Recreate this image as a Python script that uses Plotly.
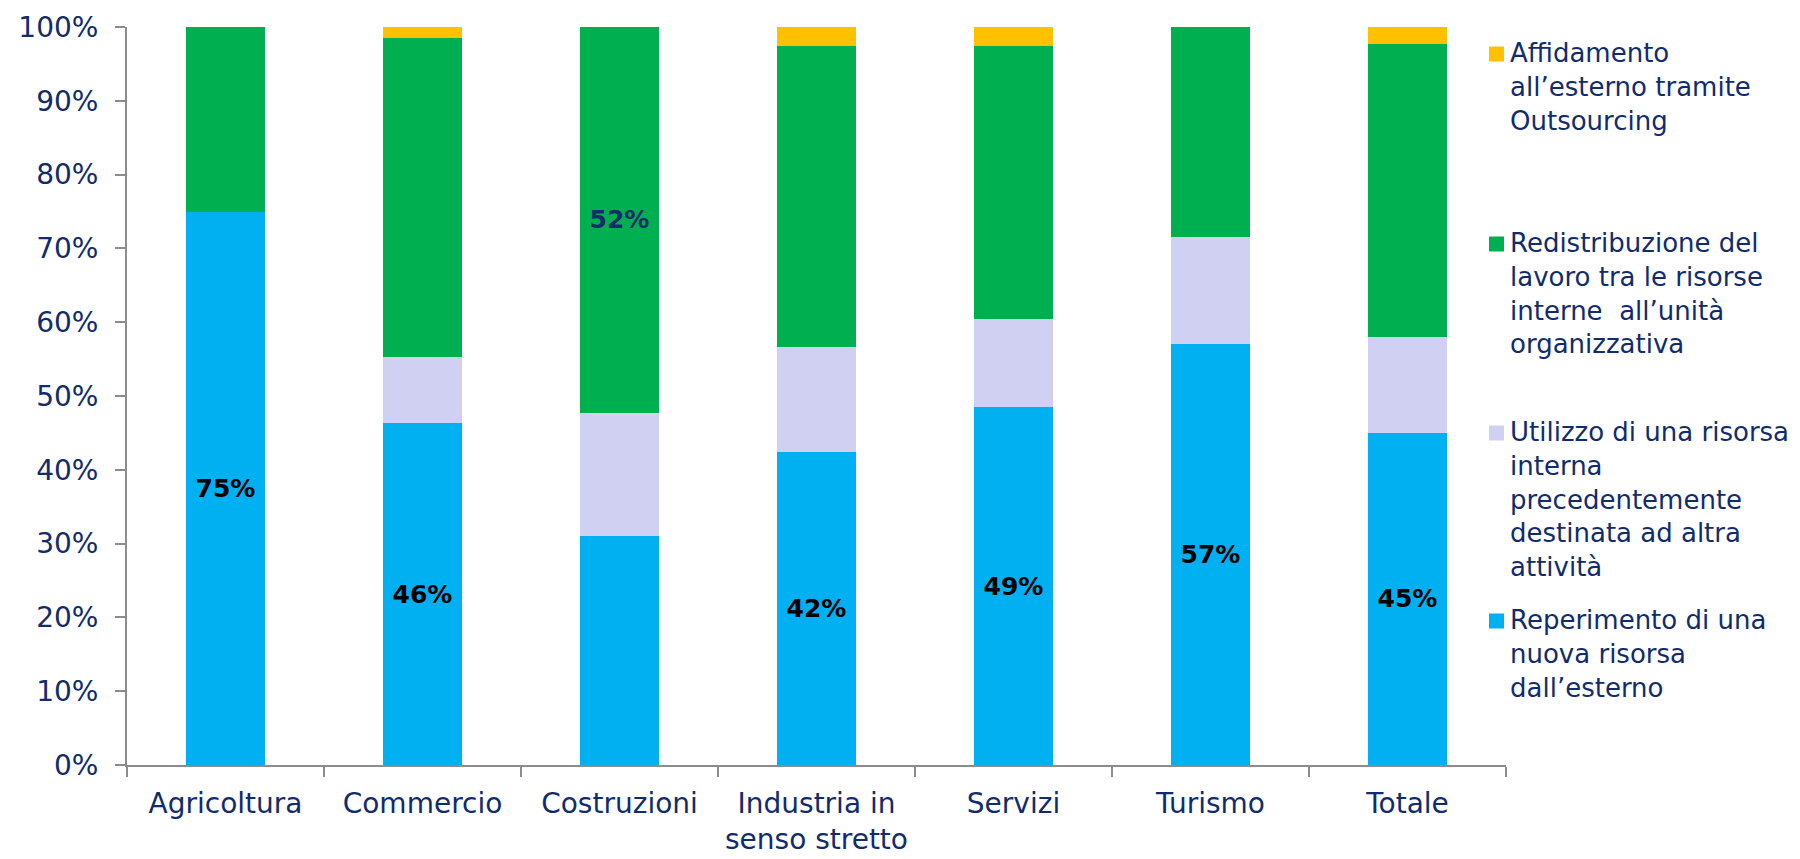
import plotly.graph_objects as go

# categories and series (percent of firms)
settori = ["Agricoltura", "Commercio", "Costruzioni", "Industria in<br>senso stretto",
           "Servizi", "Turismo", "Totale"]

reperimento = [75.0, 46.3, 31.0, 42.4, 48.5, 57.1, 45.0]
utilizzo = [0.0, 9.0, 16.7, 14.3, 12.0, 14.4, 13.0]
redistribuzione = [25.0, 43.2, 52.3, 40.7, 36.9, 28.5, 39.7]
affidamento = [0.0, 1.5, 0.0, 2.6, 2.6, 0.0, 2.3]

etichette_reperimento = ["75%", "46%", "", "42%", "49%", "57%", "45%"]
etichette_redistribuzione = ["", "", "52%", "", "", "", ""]

serie = [
    ("Reperimento di una<br>nuova risorsa<br>dall’esterno", reperimento, "#00B0F0", etichette_reperimento, "black"),
    ("Utilizzo di una risorsa<br>interna<br>precedentemente<br>destinata ad altra<br>attività", utilizzo, "#D0D0F2", None, None),
    ("Redistribuzione del<br>lavoro tra le risorse<br>interne  all’unità<br>organizzativa", redistribuzione, "#00B050", etichette_redistribuzione, "#102C6C"),
    ("Affidamento<br>all’esterno tramite<br>Outsourcing", affidamento, "#FFC000", None, None),
]

NAVY = "#102C6C"
FONT = "DejaVu Sans"

# page body adds an 8px offset; margins compensate so the plot lands where the reference has it
W, H = 1800, 859
L, R, T, B = 119, 302, 19, 102
pw, ph = W - L - R, H - T - B
OFF = 8

fig = go.Figure()
for nome, valori, colore, testo, col_testo in serie:
    fig.add_trace(go.Bar(
        x=settori, y=valori, name=nome,
        marker=dict(color=colore, line=dict(width=0)),
        text=testo, textposition="inside" if testo else "none",
        insidetextanchor="middle", textangle=0,
        textfont=dict(family=FONT, size=25, color=col_testo or "black", weight="bold"),
        hoverinfo="skip",
    ))

# custom legend: squares + wrapped text, evenly spaced from the top
shapes = []
annotations = []
centri = [54, 244, 433, 621]  # page-pixel centres of legend squares
for (nome, valori, colore, _, _), yc in zip(reversed(serie), centri):
    yc -= OFF
    x0 = (1489 - OFF - L) / pw
    x1 = (1504 - OFF - L) / pw
    y0 = (H - B - (yc + 7.5)) / ph
    y1 = (H - B - (yc - 7.5)) / ph
    shapes.append(dict(type="rect", xref="paper", yref="paper", x0=x0, x1=x1, y0=y0, y1=y1,
                       fillcolor=colore, line=dict(width=0)))
    annotations.append(dict(
        text=nome, xref="paper", yref="paper",
        x=(1508 - OFF - L) / pw, y=(H - B - (yc - 18)) / ph,
        xanchor="left", yanchor="top", align="left", showarrow=False,
        font=dict(family=FONT, size=26, color=NAVY),
    ))

fig.update_layout(
    barmode="stack",
    bargap=0.6,
    width=W, height=H,
    margin=dict(l=L, r=R, t=T, b=B, autoexpand=False),
    plot_bgcolor="white", paper_bgcolor="white",
    showlegend=False,
    font=dict(family=FONT, color=NAVY),
    shapes=shapes,
    annotations=annotations,
    xaxis=dict(
        automargin=False, ticklabeloverflow="allow",
        showline=True, linecolor="#8C8C8C", linewidth=2,
        ticks="outside", tickson="boundaries", ticklen=10, tickcolor="#8C8C8C", tickwidth=2,
        tickfont=dict(family=FONT, size=28, color=NAVY),
        ticklabelstandoff=12,
        showgrid=False, zeroline=False,
    ),
    yaxis=dict(
        automargin=False, ticklabeloverflow="allow",
        range=[0, 100], dtick=10, ticksuffix="%",
        showline=True, linecolor="#8C8C8C", linewidth=2,
        ticks="outside", ticklen=10, tickcolor="#8C8C8C", tickwidth=2,
        tickfont=dict(family=FONT, size=28, color=NAVY),
        ticklabelstandoff=11,
        showgrid=False, zeroline=False,
    ),
)

fig.write_html("out.html")
